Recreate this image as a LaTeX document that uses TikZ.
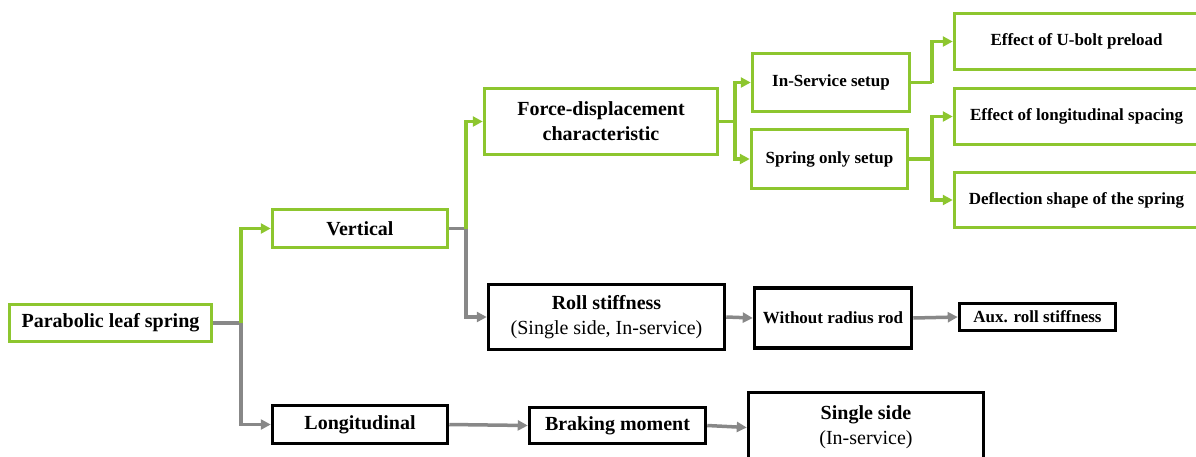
\documentclass[tikz,border=0pt]{standalone}
\usepackage{fontspec}
\setmainfont{Liberation Serif}
\usetikzlibrary{arrows.meta}
\definecolor{lgreen}{RGB}{141,198,47}
\definecolor{lgray}{RGB}{136,136,136}
\begin{document}
\begin{tikzpicture}[x=1pt,y=-1pt,
  box/.style={rectangle, line width=3.5pt, inner sep=0pt, align=center},
  gbox/.style={box, draw=lgreen},
  kbox/.style={box, draw=black},
  big/.style={font=\fontsize{20}{25}\selectfont\bfseries},
  small/.style={font=\fontsize{17}{21}\selectfont\bfseries},
  link/.style={line width=3.5pt, line join=miter},
  glink/.style={link, draw=lgreen},
  klink/.style={link, draw=lgray},
  tip/.style={-{Triangle[length=10pt,width=10pt]}},
]
\useasboundingbox (0,0) rectangle (1196,456);
\clip (0,0) rectangle (1196,456);

% nodes
\node[gbox,big,minimum width=202pt,minimum height=37pt] (pls) at (110.5,323) {Parabolic leaf spring};
\node[gbox,big,minimum width=175pt,minimum height=38pt] (vert) at (360,228.5) {Vertical};
\node[kbox,big,minimum width=175pt,minimum height=38pt] (long) at (360,424.5) {Longitudinal};
\node[gbox,big,minimum width=233pt,minimum height=66pt] (fd) at (601,121.5) {Force-displacement\\characteristic};
\node[gbox,small,minimum width=157pt,minimum height=58pt] (ins) at (831,82.5) {In-Service setup};
\node[gbox,small,minimum width=156pt,minimum height=59pt] (spr) at (829.5,159) {Spring only setup};
\node[gbox,small,minimum width=244pt,minimum height=56pt] (ub) at (1076.5,41.5) {Effect of U-bolt preload};
\node[gbox,small,minimum width=244pt,minimum height=56pt] (ls) at (1076.5,116.5) {Effect of longitudinal spacing};
\node[gbox,small,minimum width=244pt,minimum height=55pt] (ds) at (1076.5,200) {Deflection shape of the spring};
\node[kbox,big,minimum width=236pt,minimum height=65pt] (roll) at (606.5,317) {Roll stiffness\\{\mdseries (Single side, In-service)}};
\node[kbox,small,minimum width=157pt,minimum height=60pt] (wrr) at (833,318) {Without radius rod};
\node[kbox,small,minimum width=156pt,minimum height=27pt] (aux) at (1037.5,317) {Aux. roll stiffness};
\node[kbox,big,minimum width=176pt,minimum height=36pt] (brk) at (617.5,425.5) {Braking moment};
\node[kbox,big,minimum width=235pt,minimum height=70pt] (ss) at (866,427.5) {Single side\\{\mdseries (In-service)}};

% junctions
\coordinate (j1) at (241,323);
\coordinate (j2) at (466,228.5);
\coordinate (j3) at (735,121.5);
\coordinate (j4) at (932,82.5);
\coordinate (j5) at (932,159);

% connectors
\draw[klink] (pls.east) -- (j1);
\draw[glink,tip] (j1) |- (vert.west);
\draw[klink,tip] (j1) |- (long.west);
\draw[klink] (vert.east) -- (j2);
\draw[glink,tip] (j2) |- (fd.west);
\draw[klink,tip] (j2) |- (roll.west);
\draw[glink] (fd.east) -- (j3);
\draw[glink,tip] (j3) |- (ins.west);
\draw[glink,tip] (j3) |- (spr.west);
\draw[glink] (ins.east) -- (j4);
\draw[glink,tip] (j4) |- (ub.west);
\draw[glink] (spr.east) -- (j5);
\draw[glink,tip] (j5) |- (ls.west);
\draw[glink,tip] (j5) |- (ds.west);
\draw[klink,tip] (roll.east) -- (wrr.west);
\draw[klink,tip] (wrr.east) -- (aux.west);
\draw[klink,tip] (long.east) -- (brk.west);
\draw[klink,tip] (brk.east) -- (ss.west);
\end{tikzpicture}
\end{document}
